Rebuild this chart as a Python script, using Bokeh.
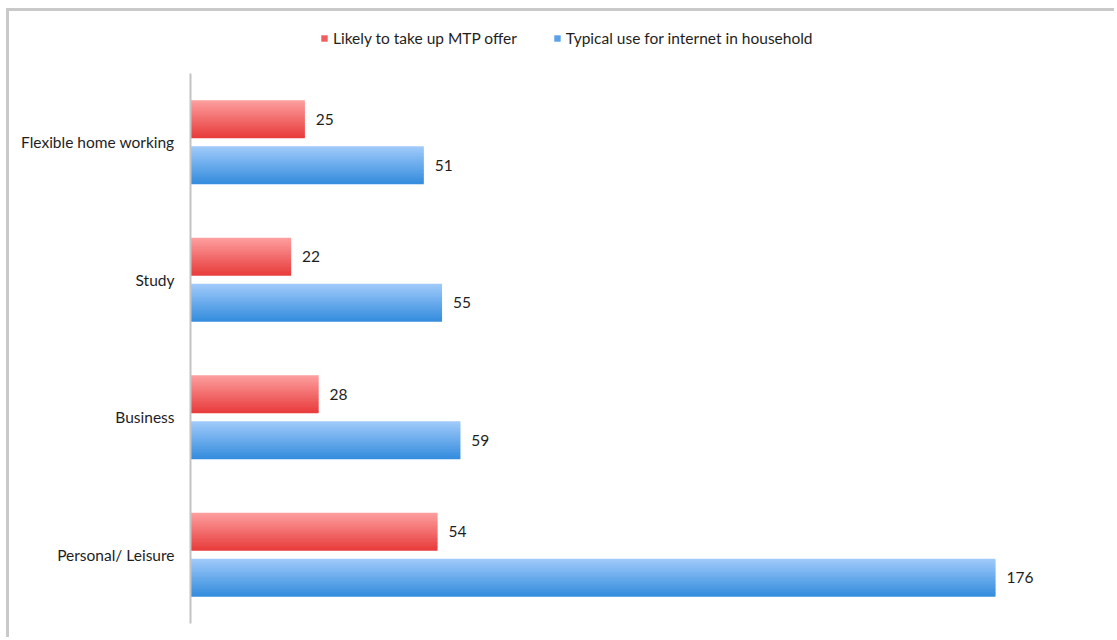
from bokeh.plotting import figure
from bokeh.models import ColumnDataSource, Range1d, Legend, LegendItem, FixedTicker
from bokeh.transform import dodge
from bokeh.embed import file_html
from bokeh.resources import INLINE

categories = ["Flexible home working", "Study", "Business", "Personal/ Leisure"]
likely_mtp = [25, 22, 28, 54]
typical_use = [51, 55, 59, 176]
series_names = ["Likely to take up MTP offer", "Typical use for internet in household"]

n_cat = len(categories)
pos = [n_cat - 1 - i for i in range(n_cat)]  # first category at the top

src = ColumnDataSource(dict(
    pos=pos,
    red=likely_mtp,
    blue=typical_use,
    red_lbl=[str(v) for v in likely_mtp],
    blue_lbl=[str(v) for v in typical_use],
))

FONT = "Lato"
FS = "15.5px"
TXT = "#1e1e1e"

W, H = 1108, 629
TOP_EXTRA = 0.4145  # room above the axis for the legend
p = figure(
    width=W, height=H,
    y_range=Range1d(-0.5, n_cat - 0.5 + TOP_EXTRA),
    x_range=Range1d(0, 200.5),
    output_backend="svg", toolbar_location=None,
    min_border_left=181, min_border_right=10, min_border_top=5, min_border_bottom=17,
)
p.margin = (8, 0, 0, 6)
p.styles = {"border-left": "3px solid #c9c9c9", "border-top": "3px solid #c9c9c9"}
p.outline_line_color = None
p.grid.visible = False
p.xaxis.visible = False

yax = p.yaxis[0]
yax.ticker = FixedTicker(ticks=pos)
yax.major_label_overrides = {pv: c for pv, c in zip(pos, categories)}
yax.bounds = (-0.5, n_cat - 0.5)
yax.axis_line_color = "#c4c4c4"
yax.axis_line_width = 2
yax.major_tick_line_color = None
yax.minor_tick_line_color = None
yax.major_label_standoff = 10
yax.major_label_text_font = FONT
yax.major_label_text_font_size = FS
yax.major_label_text_color = TXT

OFF = 0.167
BH = 0.27

def gradient_bars(col, off, top_rgb, bot_rgb, n=28):
    rends = []
    for i in range(n):
        t = i / (n - 1)
        r = int(top_rgb[0] + (bot_rgb[0] - top_rgb[0]) * t)
        g = int(top_rgb[1] + (bot_rgb[1] - top_rgb[1]) * t)
        b = int(top_rgb[2] + (bot_rgb[2] - top_rgb[2]) * t)
        color = "#%02x%02x%02x" % (r, g, b)
        strip_h = BH / n
        center = off + BH / 2 - strip_h * (i + 0.5)
        rr = p.hbar(y=dodge("pos", center), right=col, left=0,
                    height=strip_h * 1.6, source=src, fill_color=color, line_color=None)
        rends.append(rr)
    return rends

red_rs = gradient_bars("red", OFF, (253, 158, 158), (233, 62, 62))
blue_rs = gradient_bars("blue", -OFF, (160, 202, 251), (55, 142, 222))

for col, lbl, off in (("red", "red_lbl", OFF), ("blue", "blue_lbl", -OFF)):
    p.text(x=col, y=dodge("pos", off), text=lbl, source=src,
           x_offset=11, text_baseline="middle", text_align="left",
           text_font_size=FS, text_color=TXT,
           text_font={"value": FONT})

k = int(len(red_rs) * 0.65)
legend = Legend(items=[LegendItem(label=series_names[0], renderers=[red_rs[k]]),
                       LegendItem(label=series_names[1], renderers=[blue_rs[k]])],
                orientation="horizontal", location=(130, 576),
                glyph_width=8, glyph_height=8, label_standoff=5, spacing=36,
                label_text_font=FONT, label_text_font_size=FS,
                label_text_color=TXT, background_fill_alpha=0,
                border_line_color=None, padding=0, margin=0)
p.add_layout(legend, "center")

open("out.html", "w").write(file_html(p, INLINE))
